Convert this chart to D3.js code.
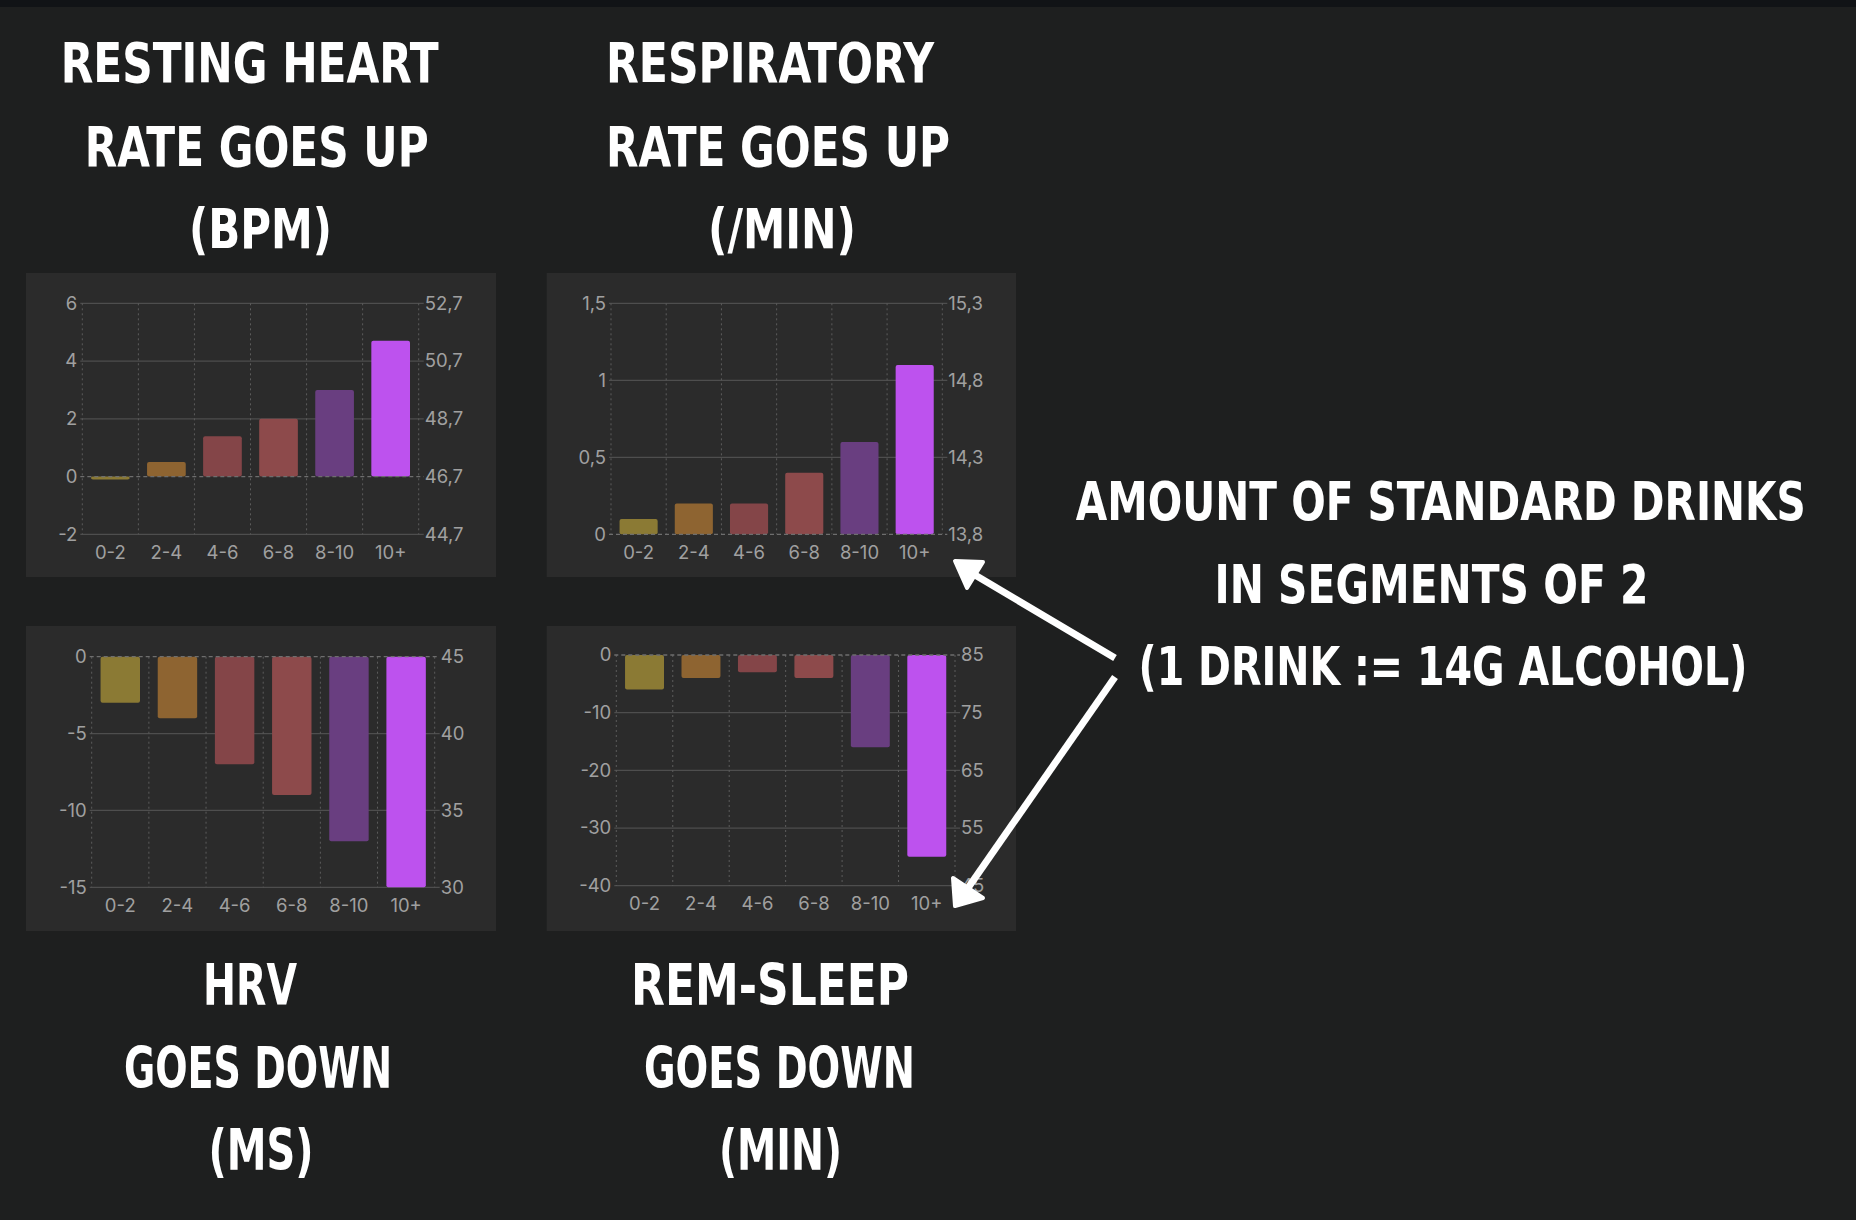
<!DOCTYPE html>
<html>
<head>
<meta charset="utf-8">
<script src="https://cdn.jsdelivr.net/npm/d3@7"></script>
<style>
  html, body { margin: 0; padding: 0; background: #1e1f1f; }
  svg { display: block; }
</style>
</head>
<body>
<svg id="chart" width="1856" height="1220"></svg>
<script>
// ---------- DATA ----------
const categories = ["0-2", "2-4", "4-6", "6-8", "8-10", "10+"];

const restingHeartRate = [-0.1, 0.5, 1.4, 2.0, 3.0, 4.7];
const respiratoryRate  = [0.1, 0.2, 0.2, 0.4, 0.6, 1.1];
const hrvValues        = [-3, -4, -7, -9, -12, -15];
const remSleepValues   = [-6, -4, -3, -4, -16, -35];

const hrTicks   = [-2, 0, 2, 4, 6];
const respTicks = [0, 0.5, 1, 1.5];
const hrvTicks  = [-15, -10, -5, 0];
const remTicks  = [-40, -30, -20, -10, 0];

// right-axis baselines (absolute value at 0)
const hrBaseline   = 46.7;
const respBaseline = 13.8;
const hrvBaseline  = 45;
const remBaseline  = 85;

const barColors = ["#8b7a34", "#8e6431", "#844548", "#8d4a4b", "#693e80", "#bd52ee"];

const titleHR   = ["RESTING HEART", "RATE GOES UP", "(BPM)"];
const titleResp = ["RESPIRATORY", "RATE GOES UP", "(/MIN)"];
const titleHRV  = ["HRV", "GOES DOWN", "(MS)"];
const titleREM  = ["REM-SLEEP", "GOES DOWN", "(MIN)"];
const noteLines = ["AMOUNT OF STANDARD DRINKS", "IN SEGMENTS OF 2", "(1 DRINK := 14G ALCOHOL)"];

// ---------- LAYOUT ----------
const svg = d3.select("#chart");
svg.append("rect").attr("x", 0).attr("y", 0).attr("width", 1856).attr("height", 7).attr("fill", "#111316");

const fmtComma = v => String(Math.round(v * 10) / 10).replace(".", ",");

const panels = [
  { values: restingHeartRate, ticks: hrTicks, base: hrBaseline,
    bg: [26, 273, 470, 304], plot: [82.3, 303.3, 418.7, 534.3] },
  { values: respiratoryRate, ticks: respTicks, base: respBaseline,
    bg: [546.7, 273, 469.3, 304], plot: [611, 303.3, 942.3, 534.3] },
  { values: hrvValues, ticks: hrvTicks, base: hrvBaseline,
    bg: [26, 626, 470, 305], plot: [91.7, 656.7, 434.7, 887.3] },
  { values: remSleepValues, ticks: remTicks, base: remBaseline,
    bg: [546.7, 626, 469.3, 305], plot: [616.3, 655, 955, 885.7] }
];

const tickFont = "Inter, 'Noto Sans', sans-serif";
const gridColor = "#4e4e4e";
const dotColor = "#5c5c5c";
const labelColor = "#a0a0a0";

panels.forEach(p => {
  const [bx, by, bw, bh] = p.bg;
  const [x0, y0, x1, y1] = p.plot;
  const g = svg.append("g");
  g.append("rect").attr("x", bx).attr("y", by).attr("width", bw).attr("height", bh).attr("fill", "#2b2b2b");

  const tmin = d3.min(p.ticks), tmax = d3.max(p.ticks);
  const y = d3.scaleLinear().domain([tmin, tmax]).range([y1, y0]);
  const yR = d3.scaleLinear().domain([tmin + p.base, tmax + p.base]).range([y1, y0]);
  const x = d3.scaleBand().domain(categories).range([x0, x1]).paddingInner(0.31).paddingOuter(0.155);
  const xEdges = d3.scaleBand().domain(categories).range([x0, x1]).padding(0);

  // horizontal grid (non-zero)
  g.append("g").selectAll("line").data(p.ticks.filter(t => t !== 0)).join("line")
    .attr("x1", x0 - 2).attr("x2", x1 + 5)
    .attr("y1", d => y(d)).attr("y2", d => y(d))
    .attr("stroke", gridColor).attr("stroke-width", 1.3);

  // vertical dotted boundaries
  const edges = categories.map(c => xEdges(c)).concat([x1]);
  g.append("g").selectAll("line").data(edges).join("line")
    .attr("x1", d => d).attr("x2", d => d)
    .attr("y1", y0).attr("y2", y1)
    .attr("stroke", dotColor).attr("stroke-width", 1).attr("stroke-dasharray", "2,3");

  // bars
  g.append("g").selectAll("rect").data(p.values).join("rect")
    .attr("x", (d, i) => x(categories[i]))
    .attr("width", x.bandwidth())
    .attr("y", d => Math.min(y(d), y(0)))
    .attr("height", d => Math.abs(y(d) - y(0)))
    .attr("rx", 2).attr("ry", 2)
    .attr("fill", (d, i) => barColors[i]);

  // zero line dashed on top
  g.append("line").attr("x1", x0 - 2).attr("x2", x1 + 5)
    .attr("y1", y(0)).attr("y2", y(0))
    .attr("stroke", "#6e6e6e").attr("stroke-width", 1.3).attr("stroke-dasharray", "4,3");

  const left = g.append("g").attr("transform", `translate(${x0 - 5},0)`)
    .call(d3.axisLeft(y).tickValues(p.ticks).tickSize(0).tickPadding(0).tickFormat(fmtComma));
  const right = g.append("g").attr("transform", `translate(${x1 + 6},0)`)
    .call(d3.axisRight(yR).tickValues(p.ticks.map(t => t + p.base)).tickSize(0).tickPadding(0).tickFormat(fmtComma));
  const bottom = g.append("g").attr("transform", `translate(0,${y1 + 6})`)
    .call(d3.axisBottom(x).tickSize(0).tickPadding(0));

  [left, right, bottom].forEach(a => {
    a.select(".domain").remove();
    a.selectAll("text").attr("fill", labelColor).style("font-family", tickFont).style("font-size", "18.5px");
  });
  bottom.selectAll("text").attr("dy", "1em");
});

// ---------- TITLES ----------
const titleFont = "'DejaVu Sans Condensed', 'DejaVu Sans', sans-serif";
function drawTitle(lines, centers, baselines, widths, size) {
  const g = svg.append("g");
  lines.forEach((line, i) => {
    const holder = g.append("g");
    const t = holder.append("text")
      .attr("x", 0).attr("y", 0)
      .attr("text-anchor", "middle")
      .attr("fill", "#ffffff")
      .style("font-family", titleFont)
      .style("font-weight", "bold")
      .style("font-size", size + "px")
      .text(line);
    const natural = t.node().getComputedTextLength() || widths[i];
    const sx = widths[i] / natural;
    holder.attr("transform", `translate(${centers[i]},${baselines[i]}) scale(${sx},1)`);
  });
}
drawTitle(titleHR,   [249.7, 256.7, 260.5], [82, 166, 248], [378, 344, 143], 56);
drawTitle(titleResp, [770, 778, 782],       [82, 166, 248], [328, 344, 148], 56);
drawTitle(titleHRV,  [250, 258, 261],       [1005, 1088, 1170], [94, 268, 105], 57);
drawTitle(titleREM,  [770, 779.5, 780.5],   [1005, 1088, 1170], [278, 271, 123], 57);
drawTitle(noteLines, [1440.8, 1431.5, 1443], [520, 603, 685], [730, 434, 609], 53);

// ---------- ARROWS ----------
const arrows = svg.append("g");
const arrowDefs = [
  { from: [1115, 658], base: [975, 575], head: [[955, 561], [983, 562], [967, 588]] },
  { from: [1115, 677], base: [968, 888], head: [[955, 906], [983, 898], [953, 878]] }
];
arrowDefs.forEach(a => {
  arrows.append("line")
    .attr("x1", a.from[0]).attr("y1", a.from[1])
    .attr("x2", a.base[0]).attr("y2", a.base[1])
    .attr("stroke", "#ffffff").attr("stroke-width", 7);
  arrows.append("polygon")
    .attr("points", a.head.map(p => p.join(",")).join(" "))
    .attr("fill", "#ffffff").attr("stroke", "#ffffff")
    .attr("stroke-width", 4).attr("stroke-linejoin", "round");
});
</script>
</body>
</html>
